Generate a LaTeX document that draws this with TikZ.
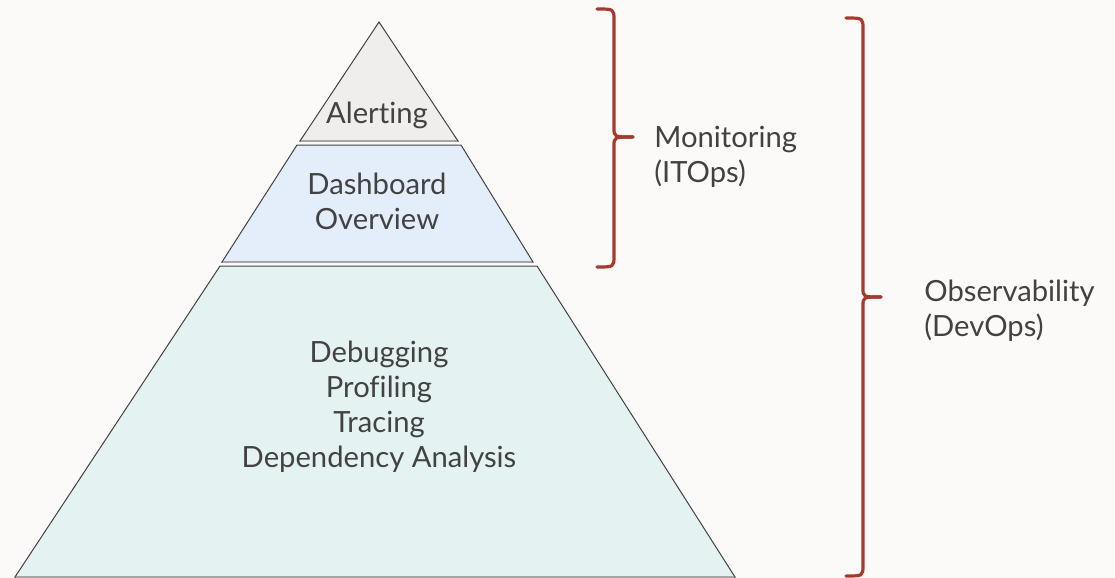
\documentclass[tikz,border=0pt]{standalone}
\usepackage{fontspec}
\setmainfont{Lato}[Ligatures=NoCommon]
\definecolor{paper}{HTML}{FBFAF8}
\definecolor{inkgray}{HTML}{424242}
\definecolor{tiptop}{HTML}{EFEEEC}
\definecolor{tipmid}{HTML}{E4EEFB}
\definecolor{tipbase}{HTML}{E5F2F2}
\definecolor{bracered}{HTML}{A63A2E}
\begin{document}
\begin{tikzpicture}[x=0.5pt, y=-0.5pt,
		every node/.style={text=inkgray, font=\fontsize{14.6}{17.5}\selectfont, align=center, inner sep=0pt},
		sidenote/.style={anchor=west, align=left},
		layer/.style={draw=inkgray, line width=0.5pt, line join=miter},
		shelf/.style={draw=gray!70, line width=1.2pt},
		bracket/.style={draw=bracered, line width=1.6pt, line cap=round, line join=round}]
	% page
	\fill[paper] (0,0) rectangle (1115,578);
	\useasboundingbox (0,0) rectangle (1115,578);

	% pyramid layers
	\draw[layer, fill=tiptop] (379,22) -- (458,141) -- (300,141) -- cycle;
	\draw[shelf] (301,141) -- (457,141);

	\draw[layer, fill=tipmid] (297,145) -- (461,145) -- (533,262) -- (222,262) -- cycle;
	\draw[shelf] (223,262) -- (532,262);

	\draw[layer, fill=tipbase] (220,266) -- (537,266) -- (735,577) -- (15,577) -- cycle;
	\draw[shelf] (16,577) -- (734,577);

	\node (alert) at (377,115) {Alerting};
	\node (dash) at (377,201) {Dashboard\\Overview};
	\node (deep) at (379,407) {Debugging\\Profiling\\Tracing\\Dependency Analysis};

	% brace for monitoring
	\coordinate (mtop) at (597,9);
	\coordinate (mbot) at (597,267);
	\coordinate (mtip) at (633,137);
	\draw[bracket] (mtop) .. controls (614,9) .. (614,20) -- (614,128)
		.. controls (614,137) .. (mtip);
	\draw[bracket] (mbot) .. controls (614,267) .. (614,256) -- (614,146)
		.. controls (614,137) .. (mtip);
	\node[sidenote] (mon) at (654,157) {Monitoring\\(ITOps)};

	% brace for observability
	\coordinate (otop) at (846,18);
	\coordinate (obot) at (846,576);
	\coordinate (otip) at (881,297);
	\draw[bracket] (otop) .. controls (863,18) .. (863,29) -- (863,288)
		.. controls (863,297) .. (otip);
	\draw[bracket] (obot) .. controls (863,576) .. (863,565) -- (863,306)
		.. controls (863,297) .. (otip);
	\node[sidenote] (obs) at (924,311) {Observability\\(DevOps)};
\end{tikzpicture}
\end{document}
